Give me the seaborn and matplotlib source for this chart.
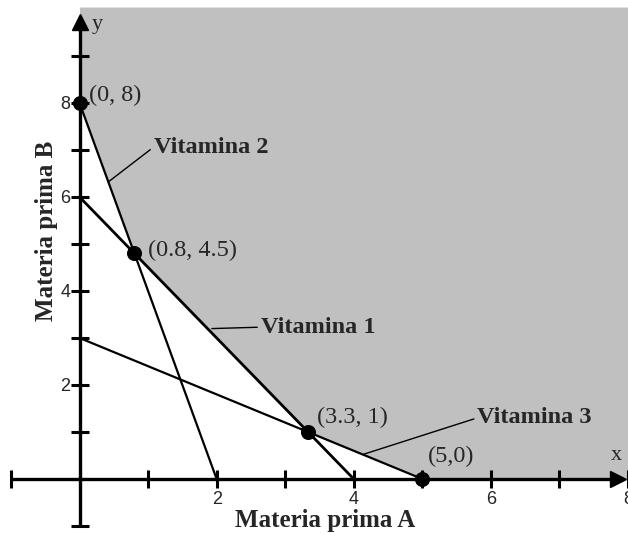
import numpy as np
import pandas as pd
import matplotlib.pyplot as plt
import seaborn as sns

# restricciones: corte con los ejes de cada vitamina
vitaminas = ["Vitamina 1", "Vitamina 2", "Vitamina 3"]
corte_x = [4, 2, 5]
corte_y = [6, 8, 3]
grosor = [2.0, 1.6, 1.6]

# vertices de la region factible
vert_x = [0, 0.8, 3.33, 5]
vert_y = [8, 4.8, 1, 0]
vert_txt = ["(0, 8)", "(0.8, 4.5)", "(3.3, 1)", "(5,0)"]
vert_txt_pos = [(0.14, 8.17), (1.0, 4.87), (3.47, 1.30), (5.08, 0.47)]

# etiquetas de las rectas (texto, posicion texto, punto sobre la recta)
etiq_txt = [(2.64, 3.23), (1.08, 7.06), (5.80, 1.30)]
etiq_linea = [(1.93, 3.2), (0.42, 6.32), (4.13, 0.52)]

ticks = list(range(-1, 9))
ticks_y = list(range(-1, 10))
tick_labels = ["2", "4", "6", "8"]

sns.set_style("white")
plt.rcParams['font.family'] = ['Liberation Serif', 'DejaVu Serif']

fig = plt.figure(figsize=(6.28, 5.34), dpi=100)
ax = fig.add_axes([0, 0, 1, 1])
ax.set_xlim(-1.16, 7.94)
ax.set_ylim(-1.17, 10.19)

# region factible
ax.fill_between(vert_x + [8], vert_y + [0], 10.04, color="#c0c0c0", lw=0, zorder=0)

for v, cx, cy, lw in zip(vitaminas, corte_x, corte_y, grosor):
    sns.lineplot(x=[0, cx], y=[cy, 0], color="black", lw=lw, ax=ax, zorder=3)

sns.scatterplot(x=vert_x, y=vert_y, color="black", s=100, edgecolor="black", ax=ax, zorder=5)

for t, (tx, ty) in zip(vert_txt, vert_txt_pos):
    ax.text(tx, ty, t, fontsize=17.5, ha="left", va="center")

for v, (tx, ty), (lx, ly) in zip(vitaminas, etiq_txt, etiq_linea):
    ax.annotate(v, xy=(lx, ly), xytext=(tx, ty), fontsize=17.5, fontweight="bold",
                ha="left", va="center",
                arrowprops=dict(arrowstyle="-", color="black", lw=1.0,
                                shrinkA=0, shrinkB=0, relpos=(0, 0.5)))

# ejes cruzando en el origen
for s in ["top", "right"]:
    ax.spines[s].set_visible(False)
ax.spines["left"].set_position(("data", 0))
ax.spines["bottom"].set_position(("data", 0))
ax.spines["left"].set_bounds(-0.94, 9.8)
ax.spines["bottom"].set_bounds(-0.97, 7.85)
for s in ["left", "bottom"]:
    ax.spines[s].set_linewidth(2.4)
    ax.spines[s].set_color("black")

ax.set_xticks(ticks, [str(t) if str(t) in tick_labels else "" for t in ticks])
ax.set_yticks(ticks_y, [str(t) if str(t) in tick_labels else "" for t in ticks_y])
ax.tick_params(axis="both", direction="inout", length=13, width=2.2, color="black",
               bottom=True, left=True, labelsize=13, labelfontfamily="Liberation Sans")
ax.tick_params(axis="y", pad=0)
ax.tick_params(axis="x", pad=2)

ax.plot(7.86, 0, marker=">", color="black", markersize=11, clip_on=False, zorder=6)
ax.plot(0, 9.72, marker="^", color="black", markersize=11, clip_on=False, zorder=6)

ax.text(7.83, 0.51, "x", fontsize=16, ha="center", va="center")
ax.text(0.26, 9.66, "y", fontsize=16, ha="center", va="center")

ax.text(3.58, -0.88, "Materia prima A", fontsize=18, fontweight="bold", ha="center", va="center")
ax.text(-0.48, 5.28, "Materia prima B", fontsize=18, fontweight="bold", ha="center", va="center",
        rotation=90)

fig.savefig("out.png", dpi=100)
